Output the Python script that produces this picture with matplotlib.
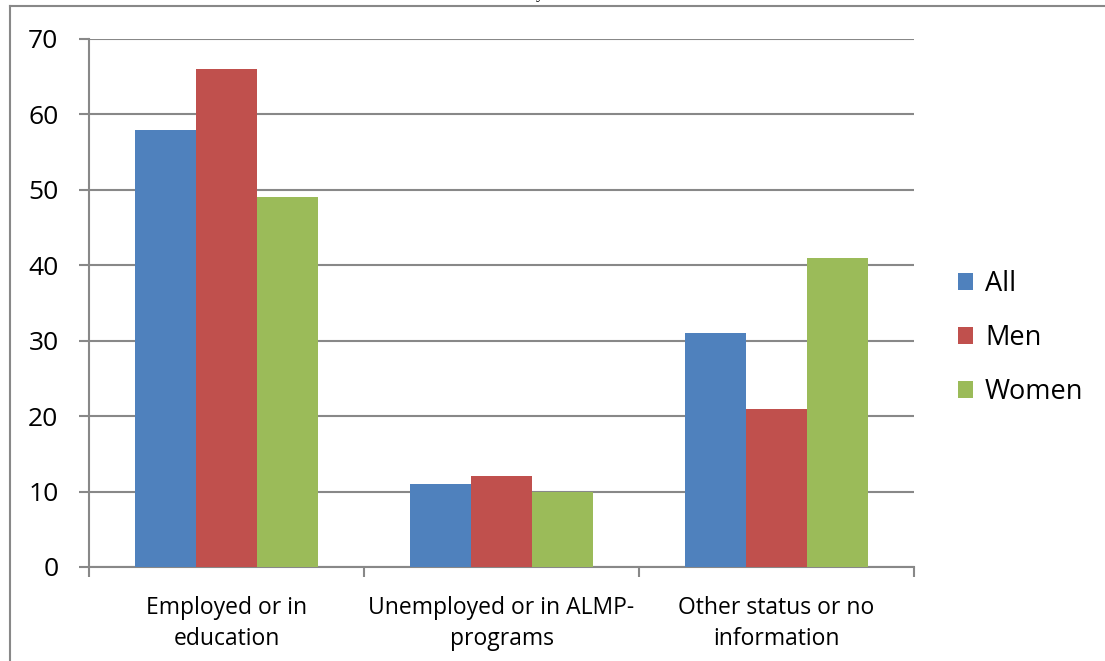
import matplotlib
matplotlib.use("Agg")
import matplotlib.pyplot as plt
from matplotlib.lines import Line2D
import numpy as np

categories = ["Employed or in\neducation", "Unemployed or in ALMP-\nprograms", "Other status or no\ninformation"]
series_names = ["All", "Men", "Women"]
all_vals = [58, 11, 31]
men_vals = [66, 12, 21]
women_vals = [49, 10, 41]
yticks = [0, 10, 20, 30, 40, 50, 60, 70]

colors = ["#4F81BD", "#C0504D", "#9BBB59"]
grid_col = "#888888"

plt.rcParams['font.family'] = ['Open Sans', 'DejaVu Sans']

W, H = 1105, 661
fig = plt.figure(figsize=(W / 100, H / 100), dpi=100)
ax = fig.add_axes([89 / W, 1 - 567 / H, (914 - 89) / W, (567 - 39) / H])

x = np.arange(len(categories))
bw = 1 / 4.5
for i, (vals, name, c) in enumerate(zip([all_vals, men_vals, women_vals], series_names, colors)):
    ax.bar(x + (i - 1) * bw, vals, width=bw, color=c, label=name, zorder=3)

ax.set_xlim(-0.5, len(categories) - 0.5)
ax.set_ylim(0, 70)
ax.set_yticks(yticks)
ax.set_yticklabels([str(v) for v in yticks], fontsize=19)
ax.yaxis.grid(True, color=grid_col, linewidth=1.5, zorder=0)
ax.set_axisbelow(True)

# category labels centred under each group, ticks at group boundaries
ax.set_xticks(x)
ax.set_xticklabels(categories, fontsize=16.5, linespacing=1.4)
ax.tick_params(axis='x', length=0, pad=21)
ax.set_xticks(np.arange(len(categories) + 1) - 0.5, minor=True)
ax.tick_params(axis='x', which='minor', length=7, width=1.5, color=grid_col)
ax.tick_params(axis='y', length=7, width=1.5, color=grid_col, pad=15)

for s in ["top", "right"]:
    ax.spines[s].set_visible(False)
for s in ["left", "bottom"]:
    ax.spines[s].set_color(grid_col)
    ax.spines[s].set_linewidth(1.5)

fig.legend(loc="center left", bbox_to_anchor=(958 / W, 1 - 338 / H), frameon=False,
           fontsize=19.5, handlelength=0.55, handleheight=0.55, handletextpad=0.45,
           labelspacing=0.96, borderpad=0, borderaxespad=0)

# outer chart frame
fig.add_artist(Line2D([10 / W, 10 / W], [0, 1 - 6 / H], color=grid_col, linewidth=1.5,
                      transform=fig.transFigure))
fig.add_artist(Line2D([10 / W, 1], [1 - 6 / H, 1 - 6 / H], color=grid_col, linewidth=1.5,
                      transform=fig.transFigure))

# tail of the heading above the frame
fig.text(536 / W, 1 + 1.5 / H, "y", fontsize=12, family="Liberation Serif", va="baseline")

fig.savefig("out.png", dpi=100)
